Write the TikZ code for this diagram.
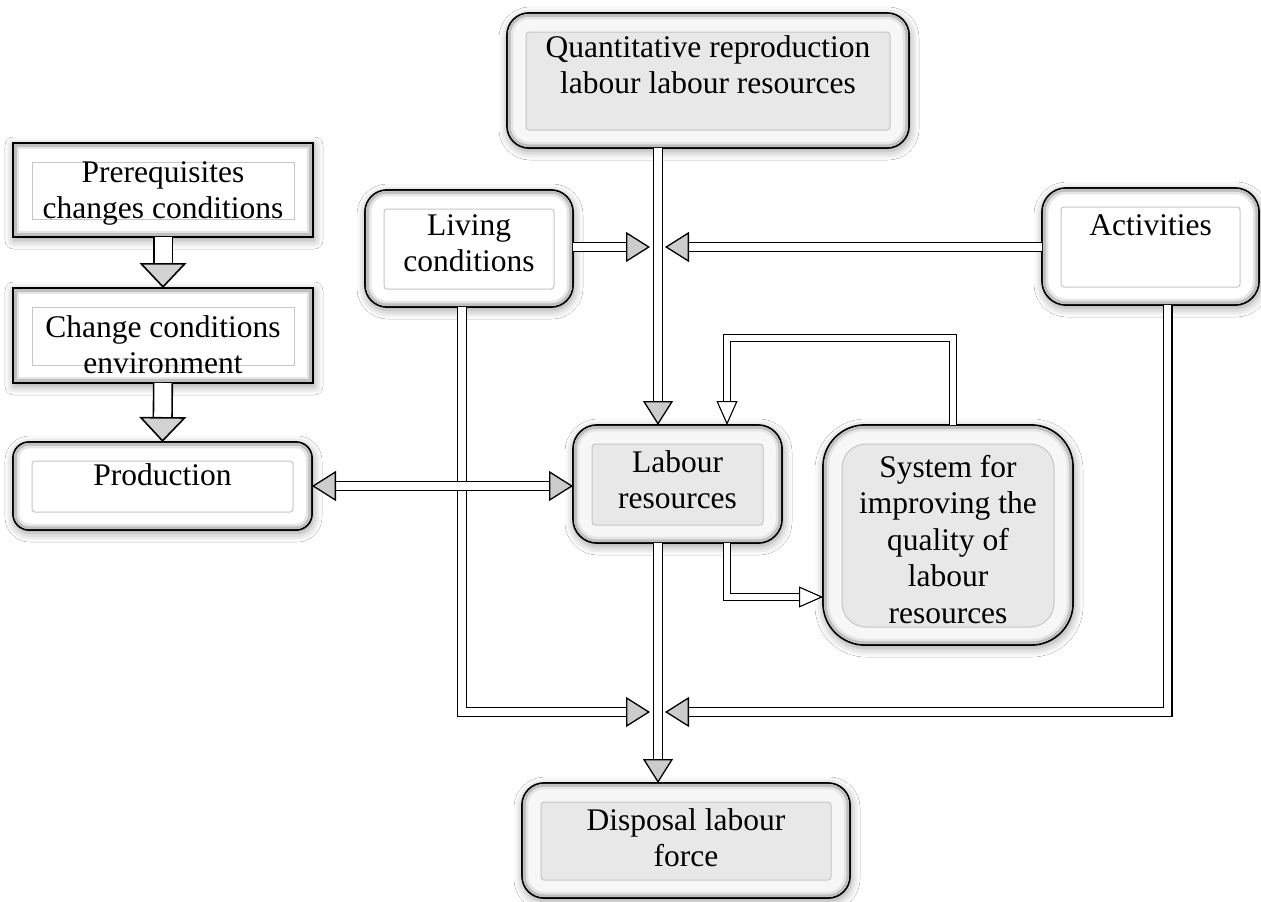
\documentclass[tikz,border=0pt]{standalone}
\usepackage{fontspec}
\setmainfont{Liberation Serif}
\usetikzlibrary{arrows.meta,shadows.blur,calc}
\tikzset{
  boxouter/.style={draw=black, line width=1.8pt, inner sep=0pt, outer sep=0pt,
    blur shadow={shadow xshift=1pt, shadow yshift=-3pt, shadow blur radius=9pt, shadow opacity=40}},
  bevel/.style={draw=gray!50, line width=3pt},
  bevellight/.style={draw=gray!20, line width=2.5pt},
  innerrect/.style={draw=gray!45, line width=1pt},
  txt/.style={inner sep=0pt, align=center, font=\fontsize{31.5}{36.5}\selectfont},
  thintip/.tip={Triangle[length=24pt,width=30pt,line width=1.3pt,fill=gray!40]},
  whitetip/.tip={Triangle[length=24pt,width=21pt,line width=1.1pt,fill=white]},
  fattip/.tip={Triangle[length=25pt,width=47pt,line width=1.6pt,fill=gray!35]},
  thinline/.style={draw=black, line width=1.3pt, double=white, double distance=7.4pt},
  thinarrow/.style={thinline, -thintip},
  whitearrow/.style={draw=black, line width=1.1pt, double=white, double distance=5.5pt, -whitetip},
  fatarrow/.style={draw=black, line width=1.6pt, double=white, double distance=17pt, -fattip},
}
\newcommand\mkbox[9]{%
  \pgfmathsetmacro\myBr{max(#6-2.4,0)}%
  \pgfmathsetmacro\myBrr{max(#6-5,0)}%
  \node[boxouter, rounded corners=#6pt, fill=#8, minimum width={(#4-#2)*1pt}, minimum height={(#5-#3)*1pt}] (#1) at ({(#2+#4)/2},{(#3+#5)/2}) {};
  \draw[bevel, rounded corners=\myBr pt] ({#2+2.4},{#3+2.4}) rectangle ({#4-2.4},{#5-2.4});
  \draw[bevellight, rounded corners=\myBrr pt] ({#2+5},{#3+5}) rectangle ({#4-5},{#5-5});
  \draw[innerrect, fill=#7, rounded corners=#9pt] ({#2+19},{#3+19}) rectangle ({#4-19},{#5-18});
}
\begin{document}
\begin{tikzpicture}[x=1pt,y=-1pt]
\useasboundingbox (0,0) rectangle (1261,902);
\fill[white] (0,0) rectangle (1261,902);

% boxes
\mkbox{quant}{507}{13}{909}{148}{22}{gray!18}{gray!6}{3}
\mkbox{prereq}{13}{143}{313}{237}{0}{white}{white}{0}
\mkbox{change}{13}{288}{313}{383}{0}{white}{white}{0}
\mkbox{production}{13}{442}{312}{530}{16}{white}{white}{3}
\mkbox{living}{365}{190}{573}{307}{22}{white}{white}{3}
\mkbox{activities}{1042}{188}{1259}{305}{24}{white}{white}{3}
\mkbox{labour}{573}{425}{782}{543}{24}{gray!18}{gray!6}{3}
\mkbox{system}{823}{425}{1073}{645}{42}{gray!18}{gray!6}{24}
\mkbox{disposal}{522}{783}{850}{898}{22}{gray!18}{gray!6}{3}

% texts
\node[txt, anchor=north] (quantT) at (708,31.5) {\strut Quantitative reproduction\\\strut labour labour resources};
\node[txt, anchor=north] (prereqT) at (163,156.5) {\strut Prerequisites\\\strut changes conditions};
\node[txt, anchor=north] (changeT) at (163,311.5) {\strut Change conditions\\\strut environment};
\node[txt, anchor=north] (productionT) at (162.5,459.5) {\strut Production};
\node[txt, anchor=north] (livingT) at (469,209.5) {\strut Living\\\strut conditions};
\node[txt, anchor=north] (activitiesT) at (1150.5,209.5) {\strut Activities};
\node[txt, anchor=north] (labourT) at (677.5,446.5) {\strut Labour\\\strut resources};
\node[txt, anchor=north] (systemT) at (948,451.5) {\strut System for\\\strut improving the\\\strut quality of\\\strut labour\\\strut resources};
\node[txt, anchor=north] (disposalT) at (686,804.5) {\strut Disposal labour\\\strut force};

% junctions
\coordinate (j1) at (658,247);
\coordinate (j2) at (658,712);
\coordinate (fb) at (953,338);
\coordinate (ls) at (727,597);

% connectors
\draw[thinarrow] (j1 |- quant.south) -- (j1 |- labour.north);
\draw[thinarrow] (j1 |- labour.south) -- (j1 |- disposal.north);
\draw[thinarrow] (living.east |- j1) -- ([xshift=-8pt]j1);
\draw[thinarrow] (activities.west |- j1) -- ([xshift=7pt]j1);
\draw[thinarrow] ([xshift=-7pt]living.south) |- ([xshift=-8pt]j2);
\draw[thinarrow] ([xshift=17pt]activities.south) |- ([xshift=7pt]j2);
\draw[thinline, thintip-thintip] (production.east) -- (production.east -| labour.west);
\draw[fatarrow] (prereq.south) -- (change.north);
\draw[fatarrow] (change.south) -- (production.north);
\draw[whitearrow] (system.north -| fb) -- (fb) -| ([xshift=49.5pt]labour.north);
\draw[whitearrow] ([xshift=49.5pt]labour.south) |- (system.west |- ls);
\end{tikzpicture}
\end{document}
